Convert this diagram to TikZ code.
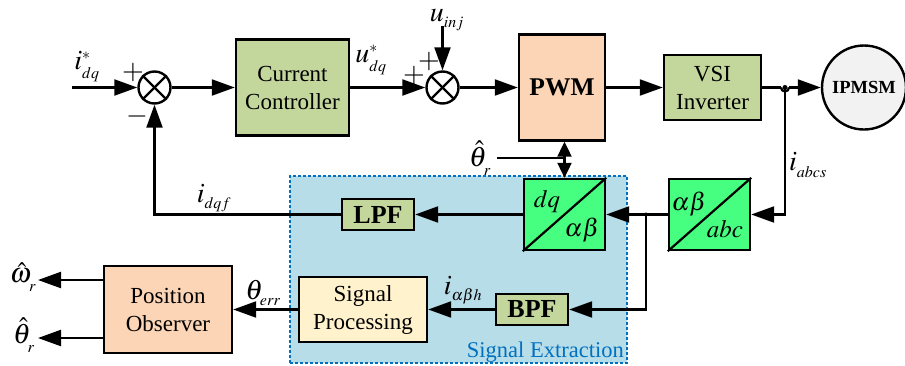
\documentclass[tikz,border=0pt]{standalone}
\usepackage{mathptmx}
\usepackage[no-math]{fontspec}
\setmainfont{Liberation Serif}
\usetikzlibrary{arrows.meta}
\DeclareMathSizes{28}{28}{16}{11}
\DeclareMathSizes{25}{25}{15}{11}
\newcommand{\lowsub}[2]{_{\lower#1\hbox{$\scriptstyle #2$}}}
\definecolor{blockgreen}{HTML}{C3D69B}
\definecolor{blockpeach}{HTML}{FBD5B5}
\definecolor{blockcream}{HTML}{FFF2CC}
\definecolor{blockbright}{HTML}{46FF80}
\definecolor{regionblue}{HTML}{B7DDE8}
\definecolor{regionline}{HTML}{0070C0}
\tikzset{
  block/.style={draw,line width=2.4pt,align=center,inner sep=0pt,font=\fontsize{23}{28}\selectfont},
  sumdot/.style={draw,circle,line width=2.4pt,fill=white,minimum size=32pt,inner sep=0pt},
  conv/.style={block,fill=blockbright,minimum width=81pt,minimum height=71pt},
  sig/.style={line width=2.2pt,-{Triangle[length=23pt,width=16pt]}},
  wire/.style={line width=2.2pt},
  lab/.style={inner sep=0pt,font=\fontsize{28}{28}\selectfont},
  convlab/.style={inner sep=0pt,font=\fontsize{25}{25}\selectfont},
}
\begin{document}
\begin{tikzpicture}[x=1pt,y=-1pt]
    \useasboundingbox (0,0) rectangle (905,365);
    \node[lab] (thetaR) at (480,158) {$\hat{\theta}\lowsub{5pt}{r}$};% Gets cut by the region below

    \node[draw=regionline,fill=regionblue,line width=1.5pt,densely dashed,minimum width=337pt,minimum height=187pt,inner sep=0pt] (region) at (458.5,269.5) {};
    \node[inner sep=0pt,text=regionline,anchor=south east,font=\fontsize{22.5}{22.5}\selectfont] (regionlab) at (624,363) {Signal Extraction};

    % Upper row
    \node[sumdot] (sumA) at (154.5,87.5) {};
    \node[block,fill=blockgreen,minimum width=113pt,minimum height=96pt] (ctrl) at (292.5,87.5) {Current\\Controller};
    \node[sumdot] (sumB) at (442.5,87.5) {};
    \node[block,fill=blockpeach,minimum width=86pt,minimum height=106pt,font=\fontsize{25.5}{28}\selectfont\bfseries] (pwm) at (562,87.5) {PWM};
    \node[block,fill=blockgreen,minimum width=97pt,minimum height=65pt] (vsi) at (712.5,87.5) {VSI\\Inverter};
    \node[draw,circle,line width=2.4pt,fill=black!5,minimum size=84pt,inner sep=0pt,font=\fontsize{18.5}{18.5}\selectfont\bfseries] (motor) at (864,87.5) {IPMSM};

    % Converters and lower row
    \node[conv] (dq) at (564.5,214.5) {};
    \node[conv] (abc) at (709.5,214.5) {};
    \node[block,fill=blockgreen,minimum width=72pt,minimum height=31pt,font=\fontsize{26}{28}\selectfont\bfseries] (lpf) at (378,214.5) {LPF};
    \node[block,fill=blockgreen,minimum width=72pt,minimum height=31pt,font=\fontsize{26}{28}\selectfont\bfseries] (bpf) at (532,309.5) {BPF};
    \node[block,fill=blockcream,minimum width=128pt,minimum height=65pt] (sigproc) at (363,309.5) {Signal\\Processing};
    \node[block,fill=blockpeach,minimum width=128pt,minimum height=87pt] (observer) at (168,309.5) {Position\\Observer};

    \draw[wire] (dq.south west) -- (dq.north east);
    \draw[wire] (abc.south west) -- (abc.north east);
    \foreach \n in {sumA,sumB}{% Crosses in the two summing points
      \draw[wire] (\n.north west) -- (\n.south east);
      \draw[wire] (\n.north east) -- (\n.south west);
    }

    \coordinate (inA) at (72,87.5);
    \coordinate (inB) at (442.5,26);
    \coordinate (jump) at (785,87.5);
    \coordinate (branch) at (646,214.5);
    \coordinate (thetaIn) at (497,158);
    \coordinate (thetaJoin) at (dq.north |- thetaIn);
    \coordinate (outW) at (38,280);
    \coordinate (outT) at (38,338);

    \draw[sig] (inA) -- (sumA);
    \draw[sig] (sumA) -- (ctrl);
    \draw[sig] (ctrl) -- (sumB);
    \draw[sig] (inB) -- (sumB);
    \draw[sig] (sumB) -- (pwm);
    \draw[sig] (pwm) -- (vsi);
    \draw[wire] (vsi.east) -- ([xshift=-4pt]jump);
    \draw[wire] ([xshift=-4pt]jump) arc (180:0:4);% Hop over the tap
    \draw[sig] ([xshift=4pt]jump) -- (motor);
    \fill (jump) circle (2.5pt);
    \draw[sig] (jump) |- (abc.east);
    \draw[sig] (abc) -- (dq);
    \fill (branch) circle (2pt);
    \draw[sig] (branch) |- (bpf.east);
    \draw[sig] (dq) -- (lpf);
    \draw[sig] (lpf.west) -| (sumA.south);
    \draw[sig] (bpf) -- (sigproc);
    \draw[sig] (sigproc) -- (observer);
    \draw[sig] (observer.west |- outW) -- (outW);
    \draw[sig] (observer.west |- outT) -- (outT);

    \draw[wire] (thetaIn) -- (thetaJoin);
    \draw[line width=2.2pt,-{Triangle[length=15pt,width=14pt]}] (thetaJoin) -- (dq.north |- pwm.south);
    \draw[line width=2.2pt,-{Triangle[length=15pt,width=14pt]}] (thetaJoin) -- (dq.north);

    % Signal names
    \node[lab] (iref) at (87,67) {$i\lowsub{2pt}{dq}^{*}$};
    \node[lab] (uref) at (371,60) {$u\lowsub{2pt}{dq}^{*}$};
    \node[lab] (uinj) at (447,20) {$u\lowsub{2pt}{inj}$};
    \node[lab] (iabcs) at (808,165) {$i\lowsub{2pt}{abcs}$};
    \node[lab] (idqf) at (214,198) {$i\lowsub{2pt}{dqf}$};
    \node[lab] (thetaerr) at (263,293) {$\theta\lowsub{2pt}{err}$};
    \node[lab] (ihigh) at (463,290) {$i\lowsub{2pt}{\alpha\beta h}$};
    \node[lab] (omegaout) at (23,277) {$\hat{\omega}\lowsub{4pt}{r}$};
    \node[lab] (thetaout) at (24,335) {$\hat{\theta}\lowsub{5pt}{r}$};
    \node[convlab] (dqa) at (547,202) {$dq$};
    \node[convlab] (dqb) at (582,230) {$\alpha\beta$};
    \node[convlab] (abca) at (689,204) {$\alpha\beta$};
    \node[convlab] (abcb) at (725,229) {$abc$};
    \node[lab] (plusA) at (133,73) {$+$};
    \node[lab] (minusA) at (137,116) {$-$};
    \node[lab] (plusB) at (429,62) {$+$};
    \node[lab] (plusC) at (414,76) {$+$};
  \end{tikzpicture}
\end{document}
